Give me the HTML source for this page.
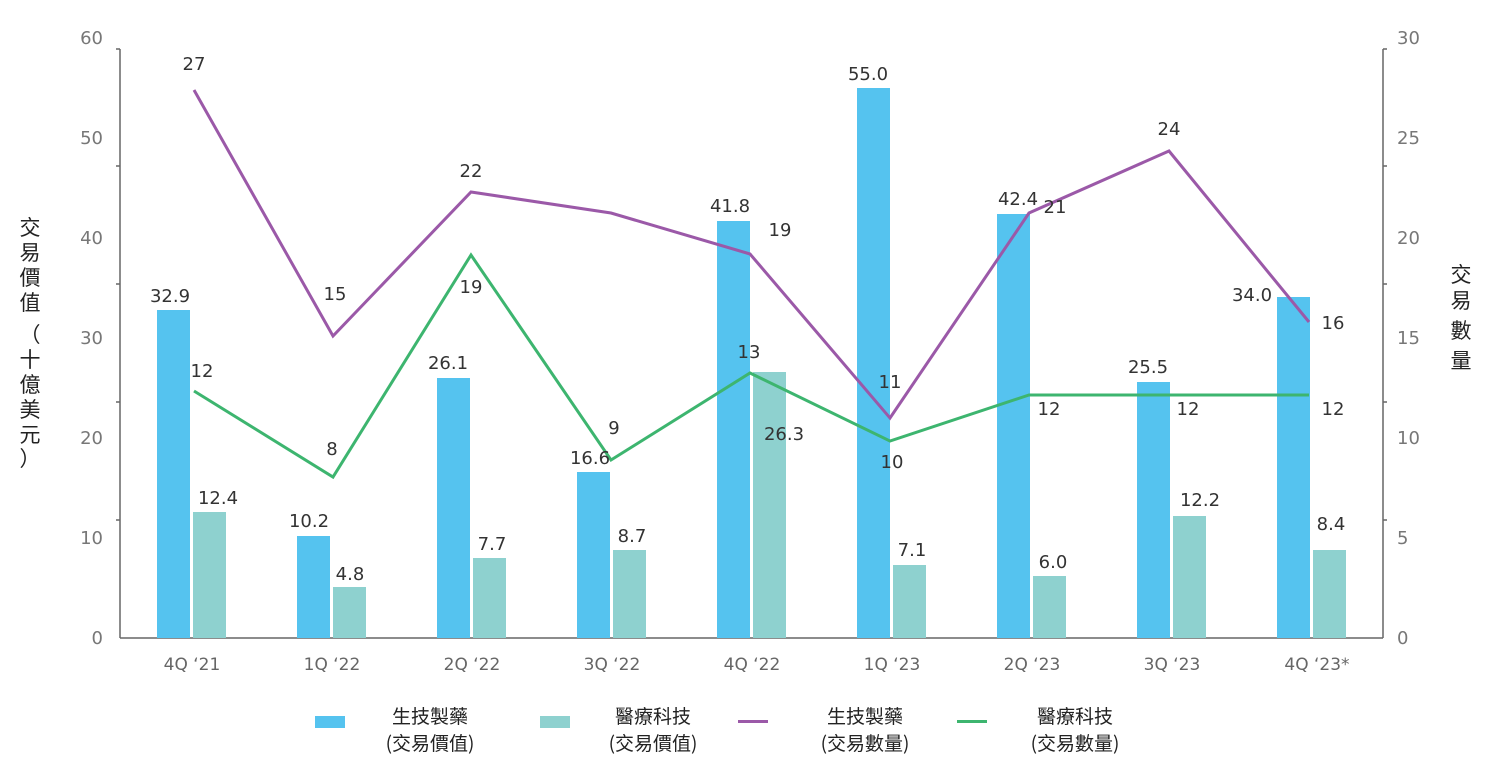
<!DOCTYPE html><html><head><meta charset="utf-8"><style>body{margin:0;background:#fff}svg{display:block}text{font-family:"DejaVu Sans","Noto Sans CJK TC",sans-serif}.cjk{font-family:"Noto Sans CJK TC",sans-serif}</style></head><body>
<svg width="1489" height="769" xmlns="http://www.w3.org/2000/svg">
<g stroke="#666" stroke-width="1.5">
<line x1="120" y1="49" x2="120" y2="638"/><line x1="1383" y1="49" x2="1383" y2="638"/>
<line x1="120" y1="638" x2="1383" y2="638"/>
<line x1="116" y1="49" x2="120" y2="49"/><line x1="116" y1="166" x2="120" y2="166"/><line x1="116" y1="284" x2="120" y2="284"/><line x1="116" y1="402" x2="120" y2="402"/><line x1="116" y1="520" x2="120" y2="520"/>
<line x1="1383" y1="49" x2="1387" y2="49"/><line x1="1383" y1="166" x2="1387" y2="166"/><line x1="1383" y1="284" x2="1387" y2="284"/><line x1="1383" y1="402" x2="1387" y2="402"/><line x1="1383" y1="520" x2="1387" y2="520"/>
</g>
<g fill="#777" font-size="18" text-anchor="end">
<text x="103" y="44">60</text><text x="103" y="144">50</text><text x="103" y="244">40</text><text x="103" y="344">30</text><text x="103" y="444">20</text><text x="103" y="544">10</text><text x="103" y="644">0</text>
</g>
<g fill="#777" font-size="18" text-anchor="start">
<text x="1397" y="44">30</text><text x="1397" y="144">25</text><text x="1397" y="244">20</text><text x="1397" y="344">15</text><text x="1397" y="444">10</text><text x="1397" y="544">5</text><text x="1397" y="644">0</text>
</g>
<g fill="#666" font-size="17" text-anchor="middle">
<text x="192" y="670">4Q ‘21</text><text x="332" y="670">1Q ‘22</text><text x="472" y="670">2Q ‘22</text><text x="612" y="670">3Q ‘22</text><text x="752" y="670">4Q ‘22</text><text x="892" y="670">1Q ‘23</text><text x="1032" y="670">2Q ‘23</text><text x="1172" y="670">3Q ‘23</text><text x="1317" y="670">4Q ‘23*</text>
</g>
<g font-size="21" fill="#222" text-anchor="middle" class="cjk">
<text class="cjk" x="30" y="235">交</text><text class="cjk" x="30" y="260">易</text><text class="cjk" x="30" y="285">價</text><text class="cjk" x="30" y="310">值</text><text class="cjk" x="30" y="342">（</text><text class="cjk" x="30" y="367">十</text><text class="cjk" x="30" y="392">億</text><text class="cjk" x="30" y="417">美</text><text class="cjk" x="30" y="442">元</text><text class="cjk" x="30" y="466">）</text>
<text class="cjk" x="1461" y="282">交</text><text class="cjk" x="1461" y="308">易</text><text class="cjk" x="1461" y="338">數</text><text class="cjk" x="1461" y="368">量</text>
</g>
<g fill="#55c3ef">
<rect x="157" y="310" width="33" height="328"/><rect x="297" y="536" width="33" height="102"/><rect x="437" y="378" width="33" height="260"/><rect x="577" y="472" width="33" height="166"/><rect x="717" y="221" width="33" height="417"/><rect x="857" y="88" width="33" height="550"/><rect x="997" y="214" width="33" height="424"/><rect x="1137" y="382" width="33" height="256"/><rect x="1277" y="297" width="33" height="341"/>
</g>
<g fill="#8ed1cf">
<rect x="193" y="512" width="33" height="126"/><rect x="333" y="587" width="33" height="51"/><rect x="473" y="558" width="33" height="80"/><rect x="613" y="550" width="33" height="88"/><rect x="753" y="372" width="33" height="266"/><rect x="893" y="565" width="33" height="73"/><rect x="1033" y="576" width="33" height="62"/><rect x="1173" y="516" width="33" height="122"/><rect x="1313" y="550" width="33" height="88"/>
</g>
<polyline fill="none" stroke="#9b59a8" stroke-width="3" points="194,90 333,336 471,192 611,213 750,254 890,418 1029,213 1169,151 1309,322"/>
<polyline fill="none" stroke="#3db56f" stroke-width="3" points="194,391 333,477 471,255 611,460 750,373 890,441 1029,395 1169,395 1309,395"/>
<g fill="#333" font-size="18" text-anchor="middle">
<text x="170" y="302">32.9</text><text x="218" y="504">12.4</text><text x="309" y="527">10.2</text><text x="350" y="580">4.8</text><text x="448" y="369">26.1</text><text x="492" y="550">7.7</text><text x="590" y="464">16.6</text><text x="632" y="542">8.7</text><text x="730" y="212">41.8</text><text x="784" y="440">26.3</text><text x="868" y="80">55.0</text><text x="912" y="556">7.1</text><text x="1018" y="205">42.4</text><text x="1053" y="568">6.0</text><text x="1148" y="373">25.5</text><text x="1200" y="506">12.2</text><text x="1252" y="301">34.0</text><text x="1331" y="530">8.4</text>
<text x="194" y="70">27</text><text x="335" y="300">15</text><text x="471" y="177">22</text><text x="780" y="236">19</text><text x="1055" y="213">21</text><text x="1169" y="135">24</text><text x="1333" y="329">16</text>
<text x="202" y="377">12</text><text x="332" y="455">8</text><text x="471" y="293">19</text><text x="614" y="434">9</text><text x="749" y="358">13</text><text x="890" y="388">11</text><text x="892" y="468">10</text><text x="1049" y="415">12</text><text x="1188" y="415">12</text><text x="1333" y="415">12</text>
</g>
<rect x="315" y="716" width="30" height="12" fill="#55c3ef"/>
<rect x="540" y="716" width="30" height="12" fill="#8ed1cf"/>
<rect x="738" y="720" width="30" height="3" fill="#9b59a8"/>
<rect x="957" y="720" width="30" height="3" fill="#3db56f"/>
<g fill="#222" font-size="19" text-anchor="middle">
<text class="cjk" x="430" y="723">生技製藥</text><text class="cjk" x="430" y="750">(交易價值)</text>
<text class="cjk" x="653" y="723">醫療科技</text><text class="cjk" x="653" y="750">(交易價值)</text>
<text class="cjk" x="865" y="723">生技製藥</text><text class="cjk" x="865" y="750">(交易數量)</text>
<text class="cjk" x="1075" y="723">醫療科技</text><text class="cjk" x="1075" y="750">(交易數量)</text>
</g>
</svg>
</body></html>
